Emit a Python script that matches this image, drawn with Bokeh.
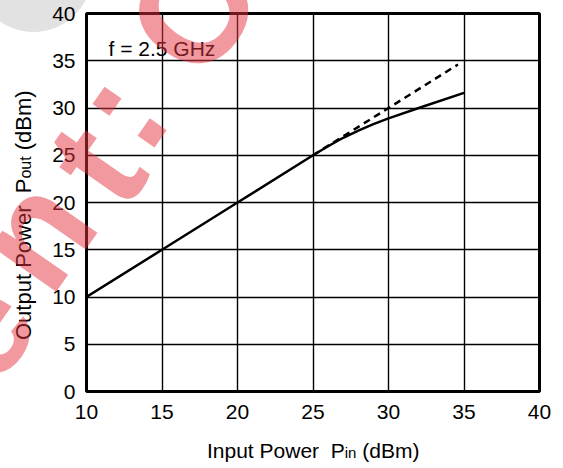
from bokeh.plotting import figure
from bokeh.models import Label, FixedTicker, Div
from bokeh.layouts import column
from bokeh.embed import file_html
from bokeh.resources import INLINE
import math

# ---- data ----
pin_solid = [10, 15, 20, 25, 26, 27, 28, 29, 30, 32, 35]
pout_solid = [10, 15, 20, 25, 25.95, 26.85, 27.6, 28.3, 28.9, 30.0, 31.6]
pin_dash = [25, 34.6]
pout_dash = [25, 34.6]
x_ticks = [10, 15, 20, 25, 30, 35, 40]
y_ticks = [0, 5, 10, 15, 20, 25, 30, 35, 40]
annotation_text = "f = 2.5 GHz"
x_title = ("Input Power\u00a0\u00a0P", "in", " (dBm)")
y_title = ("Output Power\u00a0\u00a0P", "out", " (dBm)")
# watermark glyphs: (char, visual centre x, y in px, lowercase?)
watermark = [("e", -12, 322, 1), ("n", 45, 228, 1), ("t", 95, 152, 0),
             (":", 129, 104, 1), ("C", 192, 0, 0)]

FONT = "Liberation Sans"
W, H = 555, 460
ML, MR, MT, MB = 86, 16, 13, 69
FW, FH = W - ML - MR, H - MT - MB

p = figure(width=W, height=H, x_range=(10, 40), y_range=(0, 40),
           output_backend="svg", toolbar_location=None, title=None,
           min_border_left=ML, min_border_right=MR, min_border_top=MT,
           min_border_bottom=MB)
p.background_fill_color = "white"
p.border_fill_color = None
p.outline_line_color = "black"
p.outline_line_width = 3

for ax in (p.xaxis[0], p.yaxis[0]):
    ax.axis_line_color = None
    ax.major_tick_line_color = None
    ax.minor_tick_line_color = None
    ax.major_label_text_font = FONT
    ax.major_label_text_font_size = "21px"
    ax.major_label_text_color = "black"
p.xaxis[0].ticker = FixedTicker(ticks=x_ticks)
p.yaxis[0].ticker = FixedTicker(ticks=y_ticks)
p.xaxis[0].major_label_standoff = 7
p.yaxis[0].major_label_standoff = 5

p.xgrid[0].ticker = FixedTicker(ticks=x_ticks)
p.ygrid[0].ticker = FixedTicker(ticks=y_ticks)
for g in (p.xgrid[0], p.ygrid[0]):
    g.grid_line_color = "black"
    g.grid_line_width = 1.4
    g.grid_line_alpha = 1

p.line(pin_dash, pout_dash, line_color="black", line_width=2.5, line_dash="7 5")
p.line(pin_solid, pout_solid, line_color="black", line_width=2.5)


def px2x(px):
    return 10 + (px - ML) * 30 / FW


def py2y(py):
    return (MT + FH - py) * 40 / FH


p.add_layout(Label(x=px2x(108), y=py2y(48), text=annotation_text,
                   text_font=FONT, text_font_size="21px", text_color="black",
                   text_align="left", text_baseline="alphabetic"))

# ---- HTML decorations (outside the frame) ----
font_css = f"font-family:'{FONT}';line-height:1;white-space:pre;color:black;"

disc = Div(width=1, height=0, margin=0, text=(
    '<div style="position:relative;width:0;height:0;">'
    '<div style="position:absolute;left:-25px;top:-97px;width:117px;height:117px;'
    'border-radius:50%;background:#e2e2e2;"></div></div>'))

parts = []
# x-axis title
parts.append(
    f'<div style="position:absolute;left:207px;top:{446 - 0.847 * 21 - H:.1f}px;{font_css}font-size:21px;">'
    f'{x_title[0]}<span style="font-size:15px">{x_title[1]}</span>{x_title[2]}</div>')
# y-axis title (rotated)
parts.append(
    f'<div style="position:absolute;left:{32 - 0.847 * 22:.1f}px;top:{328 - H}px;{font_css}font-size:22px;'
    f'transform:rotate(-90deg);transform-origin:0 0;">'
    f'{y_title[0]}<span style="font-size:16px">{y_title[1]}</span>{y_title[2]}</div>')
# watermark
WM_SIZE = 150
WM_ANG = 55
dx, dy = math.sin(math.radians(WM_ANG)), math.cos(math.radians(WM_ANG))
for ch, cx, cy, low in watermark:
    off = 0.087 * WM_SIZE * low
    ex, ey = cx - off * dx, cy - off * dy
    parts.append(
        f'<div style="position:absolute;left:{ex:.1f}px;top:{ey - H:.1f}px;font-family:\'{FONT}\';'
        f'font-weight:bold;font-size:{WM_SIZE}px;line-height:1;color:rgba(227,52,63,0.5);'
        f'transform:translate(-50%,-50%) rotate(-{WM_ANG}deg);">{ch}</div>')

overlay = Div(width=1, height=1, margin=0, text=(
    '<div style="position:relative;width:0;height:0;">' + "".join(parts) + '</div>'))

layout = column(disc, p, overlay, spacing=0)
open("out.html", "w").write(file_html(layout, INLINE))
